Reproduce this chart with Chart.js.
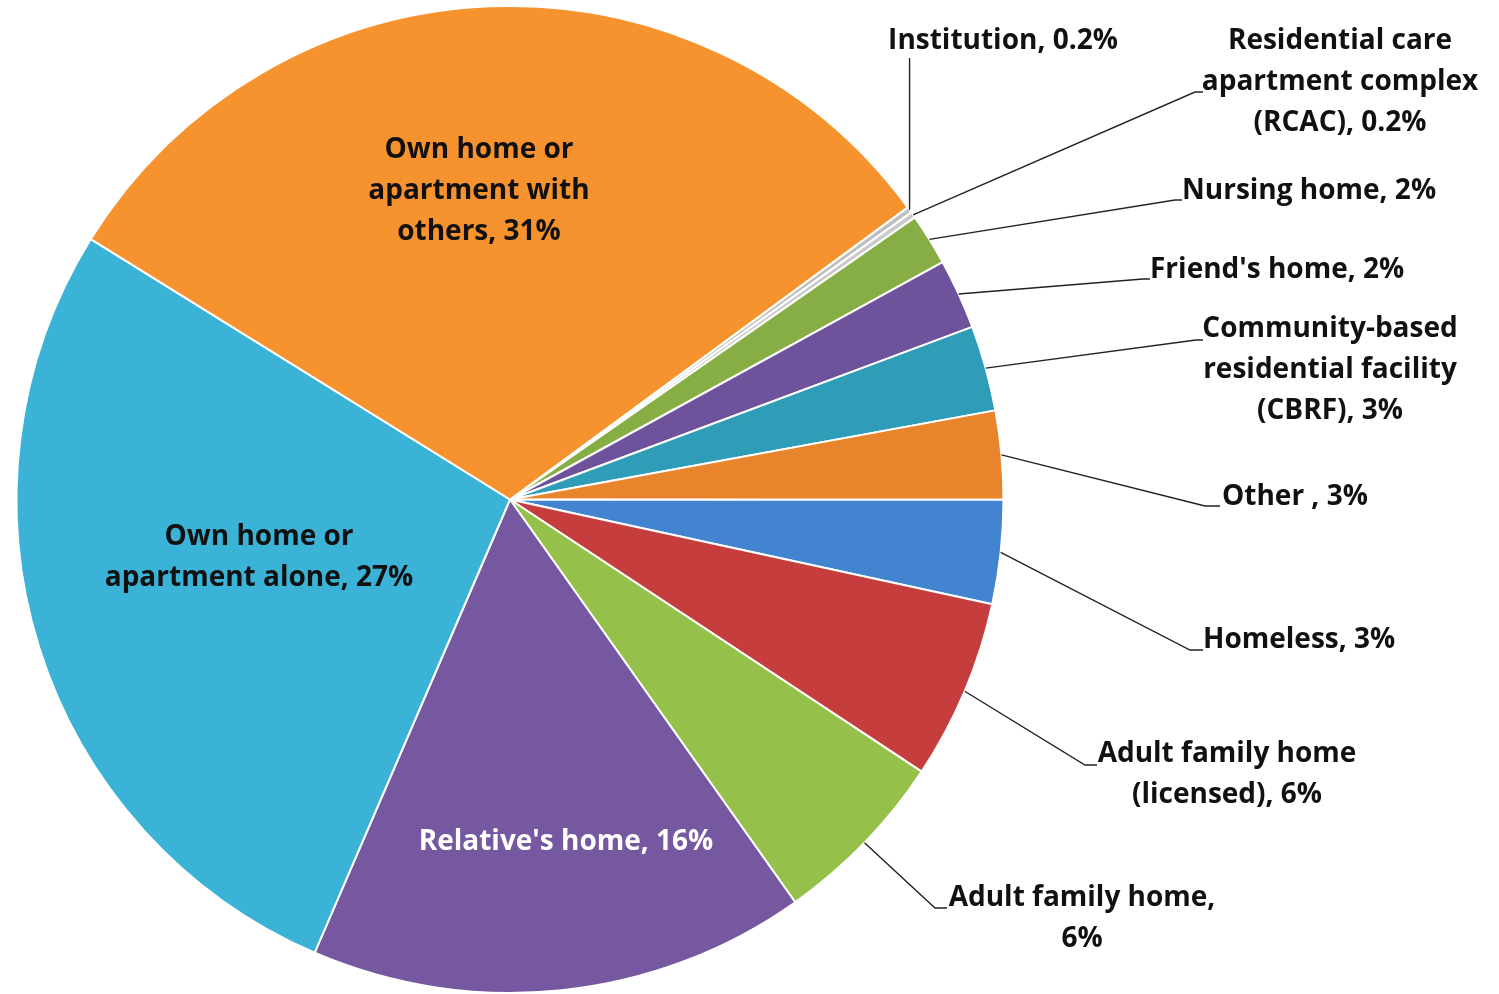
<!DOCTYPE html>
<html>
<head>
<meta charset="utf-8">
<script src="https://cdn.jsdelivr.net/npm/chart.js@4"></script>
<style>
    html, body { margin: 0; padding: 0; background: #fff; }
</style>
</head>
<body>
<canvas id="livingChart" width="1499" height="994"></canvas>
<script>
// data, clockwise starting just after the big orange slice
const categories = ['Institution', 'Residential care apartment complex (RCAC)', 'Nursing home', "Friend's home",
    'Community-based residential facility (CBRF)', 'Other', 'Homeless', 'Adult family home (licensed)',
    'Adult family home', "Relative's home", 'Own home or apartment alone', 'Own home or apartment with others'];
const shares = [0.2, 0.2, 1.7, 2.3, 2.8, 2.9, 3.4, 5.9, 5.9, 16.3, 27.4, 31.1];
const labelLines = [
    ['Institution, 0.2%'],
    ['Residential care', 'apartment complex', '(RCAC), 0.2%'],
    ['Nursing home, 2%'],
    ["Friend's home, 2%"],
    ['Community-based', 'residential facility', '(CBRF), 3%'],
    ['Other , 3%'],
    ['Homeless, 3%'],
    ['Adult family home', '(licensed), 6%'],
    ['Adult family home,', '6%'],
    ["Relative's home, 16%"],
    ['Own home or', 'apartment alone, 27%'],
    ['Own home or', 'apartment with', 'others, 31%']
];

const sliceColors = ['#BFBFBF', '#CACACA', '#87AD45', '#6F529C', '#2F9DB8', '#E8852C',
    '#4384D0', '#C63D3D', '#95C04A', '#7658A0', '#3AB3D6', '#F7932F'];

// where each label sits; leader lines run from the slice edge to elbow, then to tail
const labelLayout = [
    { vertical: true, elbowY: 58, x: 1003, y: 41, align: 'center' },
    { elbow: [1195, 92], tail: [1203, 92], x: 1340, y: 41, align: 'center' },
    { elbow: [1175, 200], tail: [1182, 200], x: 1182, y: 191, align: 'left' },
    { elbow: [1143, 279], tail: [1150, 279], x: 1150, y: 270, align: 'left' },
    { elbow: [1196, 340], tail: [1203, 340], x: 1330, y: 329, align: 'center' },
    { elbow: [1205, 506], tail: [1220, 506], x: 1222, y: 497, align: 'left' },
    { elbow: [1190, 650], tail: [1203, 650], x: 1203, y: 640, align: 'left' },
    { elbow: [1085, 765], tail: [1097, 765], x: 1227, y: 754, align: 'center' },
    { elbow: [935, 908], tail: [947, 908], x: 1082, y: 898, align: 'center' },
    { x: 566, y: 842, align: 'center', color: '#fff' },
    { x: 259, y: 537, align: 'center' },
    { x: 479, y: 150, align: 'center' }
];

const labelPlugin = {
    id: 'sliceLabels',
    afterDraw(chart) {
        const ctx = chart.ctx;
        const arcs = chart.getDatasetMeta(0).data;
        ctx.save();
        arcs.forEach((arc, i) => {
            const p = arc.getProps(['x', 'y', 'startAngle', 'endAngle', 'outerRadius'], true);
            const lay = labelLayout[i];
            const mid = (p.startAngle + p.endAngle) / 2;
            const sx = p.x + Math.cos(mid) * p.outerRadius;
            const sy = p.y + Math.sin(mid) * p.outerRadius;
            if (lay.vertical || lay.elbow) {
                ctx.strokeStyle = '#222';
                ctx.lineWidth = 1.4;
                ctx.beginPath();
                ctx.moveTo(sx, sy);
                if (lay.vertical) {
                    ctx.lineTo(sx, lay.elbowY);
                } else {
                    ctx.lineTo(lay.elbow[0], lay.elbow[1]);
                    ctx.lineTo(lay.tail[0], lay.tail[1]);
                }
                ctx.stroke();
            }
            ctx.font = 'bold 28px "Open Sans"';
            ctx.fillStyle = lay.color || '#111';
            ctx.textAlign = lay.align;
            ctx.textBaseline = 'middle';
            labelLines[i].forEach((line, k) => {
                ctx.fillText(line, lay.x, lay.y + k * 41);
            });
        });
        ctx.restore();
    }
};

const ctx = document.getElementById('livingChart').getContext('2d');
new Chart(ctx, {
    type: 'pie',
    data: {
        labels: categories,
        datasets: [{
            data: shares,
            backgroundColor: sliceColors,
            borderColor: '#ffffff',
            borderWidth: 2
        }]
    },
    options: {
        responsive: false,
        animation: false,
        rotation: 53.7,
        layout: {
            padding: { left: 15, right: 494, top: 5, bottom: 0 }
        },
        plugins: {
            legend: { display: false },
            tooltip: { enabled: false }
        }
    },
    plugins: [labelPlugin]
});
</script>
</body>
</html>
